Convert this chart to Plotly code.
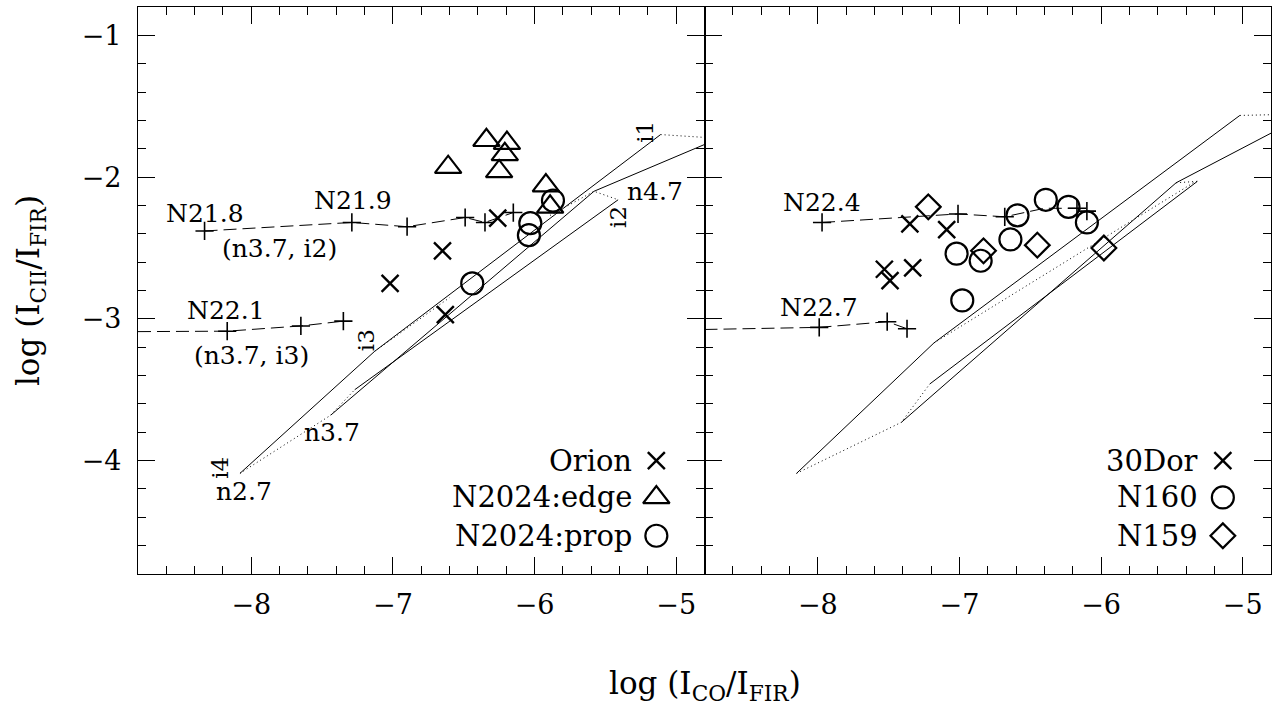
import plotly.graph_objects as go

# ---------------- data ----------------
# Left panel observations
orion_x = [-6.26, -6.65, -7.02, -6.63]
orion_y = [-2.29, -2.52, -2.75, -2.97]
edge_x = [-6.61, -6.34, -6.195, -6.21, -6.25, -5.92, -5.89]
edge_y = [-1.93, -1.74, -1.76, -1.84, -1.96, -2.06, -2.21]
prop_x = [-5.87, -6.03, -6.04, -6.44]
prop_y = [-2.165, -2.325, -2.41, -2.75]

# Left panel PDR model tracks (dashed with +)
n218_x = [-8.33, -7.29, -6.90, -6.49, -6.35, -6.15]
n218_y = [-2.38, -2.32, -2.35, -2.285, -2.32, -2.25]
n221_x = [-8.80, -8.17, -7.65, -7.35]
n221_y = [-3.09, -3.087, -3.05, -3.016]
n221_px = [-8.17, -7.65, -7.35]
n221_py = [-3.087, -3.05, -3.016]

# Left panel model grid lines
l_solid_a_x = [-8.08, -7.13, -5.11]
l_solid_a_y = [-4.09, -3.23, -1.70]
l_solid_b_x = [-7.44, -5.58, -4.80]
l_solid_b_y = [-3.68, -2.10, -1.77]
l_solid_c_x = [-7.27, -5.41]
l_solid_c_y = [-3.50, -2.16]
l_dot_a_x = [-5.11, -4.80]
l_dot_a_y = [-1.70, -1.72]
l_dot_b_x = [-8.08, -7.44, -7.27]
l_dot_b_y = [-4.09, -3.68, -3.50]
l_dot_c_x = [-5.89, -5.58, -5.41]
l_dot_c_y = [-2.27, -2.10, -2.16]
l_dot_d_x = [-7.13, -6.60]
l_dot_d_y = [-3.23, -2.85]

# Right panel observations
dor_x = [-7.35, -7.09, -7.53, -7.49, -7.33]
dor_y = [-2.33, -2.37, -2.65, -2.73, -2.64]
n160_x = [-6.59, -6.39, -6.23, -6.10, -6.64, -7.02, -6.85, -6.98]
n160_y = [-2.27, -2.16, -2.21, -2.32, -2.44, -2.54, -2.59, -2.87]
n159_x = [-7.22, -6.83, -6.45, -5.98]
n159_y = [-2.21, -2.52, -2.48, -2.50]

# Right panel PDR model tracks
n224_x = [-7.97, -7.01, -6.68, -6.40, -6.17, -6.10]
n224_y = [-2.32, -2.26, -2.28, -2.22, -2.22, -2.24]
n224_px = [-7.97, -7.01, -6.68, -6.17, -6.10]
n224_py = [-2.32, -2.26, -2.28, -2.22, -2.24]
n227_x = [-8.80, -7.99, -7.51, -7.37]
n227_y = [-3.075, -3.06, -3.02, -3.07]
n227_px = [-7.99, -7.51, -7.37]
n227_py = [-3.06, -3.02, -3.07]

# Right panel model grid lines
r_solid_a_x = [-8.15, -7.18, -5.02]
r_solid_a_y = [-4.09, -3.17, -1.565]
r_solid_b_x = [-7.41, -5.47, -4.80]
r_solid_b_y = [-3.73, -2.04, -1.69]
r_solid_c_x = [-7.21, -5.32]
r_solid_c_y = [-3.46, -2.03]
r_dot_a_x = [-5.02, -4.80]
r_dot_a_y = [-1.565, -1.56]
r_dot_b_x = [-8.15, -7.41, -7.21]
r_dot_b_y = [-4.09, -3.73, -3.46]
r_dot_c_x = [-7.18, -5.34]
r_dot_c_y = [-3.17, -2.035]
r_dot_d_x = [-5.47, -5.32]
r_dot_d_y = [-2.04, -2.03]

# legend rows
leg_y = [-4.0, -4.26, -4.53]
left_names = ["Orion", "N2024:edge", "N2024:prop"]
right_names = ["30Dor", "N160", "N159"]

FONT = "DejaVu Serif"

fig = go.Figure()

def line(x, y, dash, xa, ya, w=1.0):
    fig.add_trace(go.Scatter(x=x, y=y, mode="lines", xaxis=xa, yaxis=ya,
                             line=dict(color="black", width=w, dash=dash),
                             showlegend=False, hoverinfo="skip"))

def marks(x, y, symbol, size, xa, ya, lw=2.2):
    fig.add_trace(go.Scatter(x=x, y=y, mode="markers", xaxis=xa, yaxis=ya,
                             marker=dict(symbol=symbol, size=size, color="black",
                                         line=dict(color="black", width=lw)),
                             showlegend=False, hoverinfo="skip"))

DASH = "13px,6px"
DOT = "1px,3px"
DIA = 19

# left panel lines
for xs, ys in [(l_solid_a_x, l_solid_a_y), (l_solid_b_x, l_solid_b_y), (l_solid_c_x, l_solid_c_y)]:
    line(xs, ys, "solid", "x", "y")
for xs, ys in [(l_dot_a_x, l_dot_a_y), (l_dot_b_x, l_dot_b_y), (l_dot_c_x, l_dot_c_y), (l_dot_d_x, l_dot_d_y)]:
    line(xs, ys, DOT, "x", "y")
line(n218_x, n218_y, DASH, "x", "y")
line(n221_x, n221_y, DASH, "x", "y")
marks(n218_x, n218_y, "cross-thin", 13, "x", "y", 1.6)
marks(n221_px, n221_py, "cross-thin", 13, "x", "y", 1.6)
marks(orion_x, orion_y, "x-thin", 17, "x", "y", 2.4)
marks(edge_x, edge_y, "triangle-up-open", 23, "x", "y")
marks(prop_x, prop_y, "circle-open", 22, "x", "y")

# right panel lines
for xs, ys in [(r_solid_a_x, r_solid_a_y), (r_solid_b_x, r_solid_b_y), (r_solid_c_x, r_solid_c_y)]:
    line(xs, ys, "solid", "x2", "y2")
for xs, ys in [(r_dot_a_x, r_dot_a_y), (r_dot_b_x, r_dot_b_y), (r_dot_c_x, r_dot_c_y), (r_dot_d_x, r_dot_d_y)]:
    line(xs, ys, DOT, "x2", "y2")
line(n224_x, n224_y, DASH, "x2", "y2")
line(n227_x, n227_y, DASH, "x2", "y2")
marks(n224_px, n224_py, "cross-thin", 13, "x2", "y2", 1.6)
marks(n227_px, n227_py, "cross-thin", 13, "x2", "y2", 1.6)
marks(dor_x, dor_y, "x-thin", 17, "x2", "y2", 2.4)
marks(n160_x, n160_y, "circle-open", 22, "x2", "y2")
marks(n159_x, n159_y, "diamond-open", DIA, "x2", "y2")

# legends (marks + text inside panels)
marks([-5.14], [leg_y[0]], "x-thin", 17, "x", "y", 2.4)
marks([-5.14], [leg_y[1]], "triangle-up-open", 23, "x", "y")
marks([-5.14], [leg_y[2]], "circle-open", 22, "x", "y")
marks([-5.14], [leg_y[0]], "x-thin", 17, "x2", "y2", 2.4)
marks([-5.14], [leg_y[1]], "circle-open", 22, "x2", "y2")
marks([-5.14], [leg_y[2]], "diamond-open", DIA, "x2", "y2")

ann = []
def txt(x, y, s, xref="x", yref="y", size=25, angle=0, xanchor="center"):
    ann.append(dict(x=x, y=y, xref=xref, yref=yref, text=s, showarrow=False,
                    font=dict(family=FONT, size=size, color="black"),
                    textangle=angle, xanchor=xanchor, yanchor="middle"))

for nm, yy in zip(left_names, leg_y):
    txt(-5.30, yy, nm, size=29, xanchor="right")
for nm, yy in zip(right_names, leg_y):
    txt(-5.30, yy, nm, "x2", "y2", size=29, xanchor="right")

txt(-8.33, -2.255, "N21.8")
txt(-7.28, -2.165, "N21.9")
txt(-7.80, -2.506, "(n3.7, i2)")
txt(-8.18, -2.94, "N22.1")
txt(-8.00, -3.255, "(n3.7, i3)")
txt(-7.19, -3.15, "i3", angle=-90, size=23)
txt(-8.22, -4.05, "i4", angle=-90, size=23)
txt(-8.05, -4.22, "n2.7")
txt(-7.43, -3.80, "n3.7")
txt(-5.22, -1.68, "i1", angle=-90, size=23)
txt(-5.15, -2.10, "n4.7")
txt(-5.41, -2.28, "i2", angle=-90, size=23)
txt(-7.97, -2.18, "N22.4", "x2", "y2")
txt(-7.99, -2.92, "N22.7", "x2", "y2")

# axis titles
ann.append(dict(x=0.5, y=-0.1975, xref="paper", yref="paper",
                text="log (I<sub>CO</sub>/I<sub>FIR</sub>)", showarrow=False,
                font=dict(family=FONT, size=31, color="black"), xanchor="center", yanchor="middle"))
ann.append(dict(x=-0.0948, y=0.5, xref="paper", yref="paper",
                text="log (I<sub>CII</sub>/I<sub>FIR</sub>)", showarrow=False, textangle=-90,
                font=dict(family=FONT, size=31, color="black"), xanchor="center", yanchor="middle"))

common_ax = dict(showgrid=False, zeroline=False, showline=True, linecolor="black", linewidth=1.3,
                 mirror="ticks", ticks="inside", ticklen=17, tickwidth=1.2, tickcolor="black",
                 tickfont=dict(family=FONT, size=27, color="black"), automargin=False)

xax = dict(common_ax, range=[-8.8, -4.8], tickvals=[-8, -7, -6, -5], ticklabelstandoff=6,
           minor=dict(ticks="inside", ticklen=8, tickwidth=1.0, tickcolor="black", tick0=-9, dtick=0.2))
yax = dict(common_ax, range=[-4.8, -0.8], tickvals=[-4, -3, -2, -1], ticklabelstandoff=10,
           minor=dict(ticks="inside", ticklen=8, tickwidth=1.0, tickcolor="black", tick0=-5, dtick=0.2))

fig.update_layout(
    width=1280, height=709,
    margin=dict(l=137.5, r=9, t=6.7, b=135, autoexpand=False),
    paper_bgcolor="white", plot_bgcolor="white",
    showlegend=False,
    xaxis=dict(xax, domain=[0, 0.5], anchor="y"),
    yaxis=dict(yax, domain=[0, 1], anchor="x"),
    xaxis2=dict(xax, domain=[0.5, 1], anchor="y2"),
    yaxis2=dict(yax, domain=[0, 1], anchor="x2", showticklabels=False),
    annotations=ann,
)

fig.write_html("out.html", config={"displayModeBar": False},
               post_script="document.body.style.margin='0';document.body.style.overflow='hidden';")
